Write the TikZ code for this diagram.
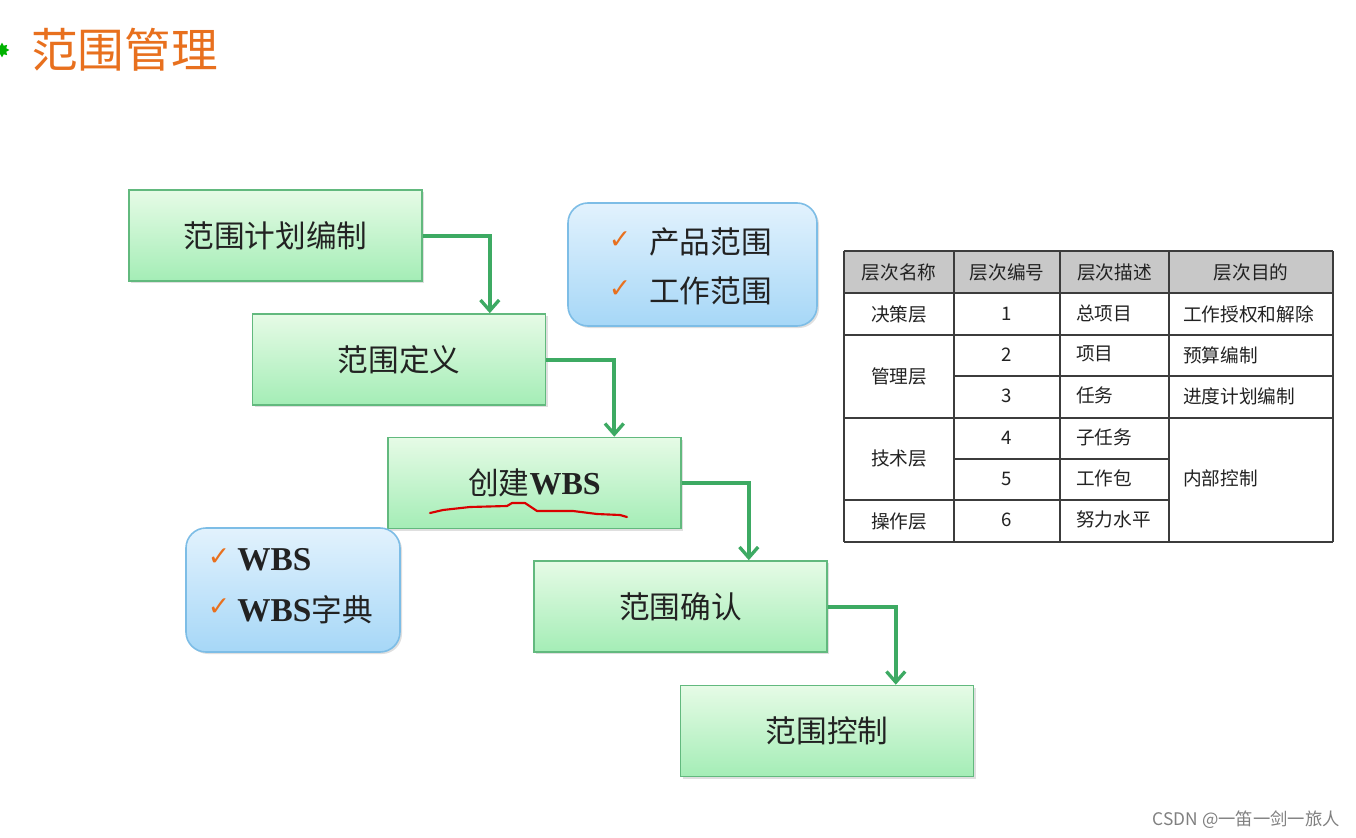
\documentclass[tikz,border=0pt]{standalone}
\usepackage{fontspec}
\setmainfont{Liberation Serif}
\newfontfamily\cjk{Noto Sans CJK SC}
\newfontfamily\symf{DejaVu Sans}
\usetikzlibrary{arrows.meta,shadows,shapes.geometric}
\definecolor{gtop}{HTML}{E6FBE6}
\definecolor{gbot}{HTML}{A4EDB6}
\definecolor{gline}{HTML}{62B97E}
\definecolor{arrowg}{HTML}{3DAA63}
\definecolor{btop}{HTML}{E2F2FD}
\definecolor{bbot}{HTML}{A6D7F7}
\definecolor{bline}{HTML}{7DBDE6}
\definecolor{orangec}{HTML}{E8701E}
\definecolor{hdr}{HTML}{C8C8C8}
\definecolor{tline}{HTML}{3C3C3C}
\definecolor{txt}{HTML}{222222}
\begin{document}
\begin{tikzpicture}[x=0.75pt,y=-0.75pt,
  stepbox/.style={draw=gline,line width=1.2pt,top color=gtop,bottom color=gbot,
    minimum width=219.75pt,minimum height=68.25pt,inner sep=0pt,
    drop shadow={shadow xshift=1.5pt,shadow yshift=-1.5pt,opacity=0.25},
    text=txt,font=\cjk\fontsize{23}{23}\selectfont},
  notebox/.style={draw=bline,line width=1.2pt,top color=btop,bottom color=bbot,
    rounded corners=15pt,inner sep=0pt,
    drop shadow={shadow xshift=1.5pt,shadow yshift=-1.5pt,opacity=0.25}},
  checkm/.style={text=orangec,font=\symf\fontsize{20}{20}\selectfont,inner sep=0pt},
  notetext/.style={anchor=west,text=txt,inner sep=0pt,font=\cjk\fontsize{23}{23}\selectfont},
  arr/.style={draw=arrowg,line width=3pt,-{Straight Barb[length=8pt,width=14pt,line width=2.5pt]}},
  cell/.style={text=txt,inner sep=0pt,font=\cjk\fontsize{14}{14}\selectfont},
  tl/.style={draw=tline,line width=1.2pt}
]
\useasboundingbox (0,0) rectangle (1356,838);
\fill[white] (0,0) rectangle (1356,838);

% title
\node[star,star points=8,star point ratio=1.6,fill=green!70!black,minimum size=11pt,inner sep=0pt] (icon) at (2,50) {};
\node[anchor=west,text=orangec,inner sep=0pt,font=\cjk\fontsize{35}{35}\selectfont] (title) at (31,50) {范围管理};

% process boxes
\node[stepbox] (b1) at (275.5,235.5) {范围计划编制};
\node[stepbox] (b2) at (399,359.5) {范围定义};
\node[stepbox] (b3) at (534.5,483) {创建{\rmfamily\bfseries\fontsize{24}{24}\selectfont WBS}};
\node[stepbox] (b4) at (680.5,606.5) {范围确认};
\node[stepbox] (b5) at (827,731) {范围控制};

% red underline
\draw[red!85!black,line width=1.6pt,line join=round,line cap=round]
  (430,513) -- (443,510) -- (470,507) -- (507,506) -- (512,503) -- (525,503)
  -- (537,511) -- (573,511) -- (597,514) -- (620,515) -- (627,517);

% connectors
\draw[arr] (b1.east) -- ++(67,0) coordinate (k1) -- (k1 |- b2.north);
\draw[arr] (b2.east) -- ++(68,0) coordinate (k2) -- (k2 |- b3.north);
\draw[arr] (b3.east) -- ++(67,0) coordinate (k3) -- (k3 |- b4.north);
\draw[arr] (b4.east) -- ++(68,0) coordinate (k4) -- (k4 |- b5.north);

% note box A
\node[notebox,minimum width=186.75pt,minimum height=92.25pt] (na) at (692.5,264.5) {};
\node[checkm] (ca1) at (620,240) {✓};
\node[checkm] (ca2) at (620,289) {✓};
\node[notetext] (ta1) at (649,242) {产品范围};
\node[notetext] (ta2) at (649,291) {工作范围};

% note box B
\node[notebox,minimum width=160.5pt,minimum height=93pt] (nb) at (293,590) {};
\node[checkm] (cb1) at (219,557) {✓};
\node[checkm] (cb2) at (219,607) {✓};
\node[notetext,font=\rmfamily\bfseries\fontsize{25}{25}\selectfont] (tb1) at (237,560) {WBS};
\node[notetext] (tb2) at (237,610) {{\rmfamily\bfseries\fontsize{25}{25}\selectfont WBS}字典};

% table
\fill[hdr] (844,251) rectangle (1333,293);
\draw[tl] (844,251) -- (1333,251);
\draw[tl] (844,293) -- (1333,293);
\draw[tl] (844,335) -- (1333,335);
\draw[tl] (954,376) -- (1333,376);
\draw[tl] (844,418) -- (1333,418);
\draw[tl] (954,459) -- (1169,459);
\draw[tl] (844,500) -- (1169,500);
\draw[tl] (844,542) -- (1333,542);
\foreach \x in {844,954,1060,1169,1333} \draw[tl] (\x,251) -- (\x,542);

\node[cell] (h1) at (899,272) {层次名称};
\node[cell] (h2) at (1007,272) {层次编号};
\node[cell] (h3) at (1114.5,272) {层次描述};
\node[cell] (h4) at (1251,272) {层次目的};

\node[cell] (a1) at (899,314) {决策层};
\node[cell] (a2) at (899,376) {管理层};
\node[cell] (a3) at (899,458) {技术层};
\node[cell] (a4) at (899,521) {操作层};

\node[cell] (n1) at (1007,314) {1};
\node[cell] (n2) at (1007,355) {2};
\node[cell] (n3) at (1007,396) {3};
\node[cell] (n4) at (1007,438) {4};
\node[cell] (n5) at (1007,479) {5};
\node[cell] (n6) at (1007,520) {6};

\node[cell,anchor=west] (d1) at (1076,313) {总项目};
\node[cell,anchor=west] (d2) at (1076,354) {项目};
\node[cell,anchor=west] (d3) at (1076,395) {任务};
\node[cell,anchor=west] (d4) at (1076,437) {子任务};
\node[cell,anchor=west] (d5) at (1076,478) {工作包};
\node[cell,anchor=west] (d6) at (1076,519) {努力水平};

\node[cell,anchor=west] (p1) at (1183,314) {工作授权和解除};
\node[cell,anchor=west] (p2) at (1183,355) {预算编制};
\node[cell,anchor=west] (p3) at (1183,396) {进度计划编制};
\node[cell,anchor=west] (p4) at (1183,478) {内部控制};

% watermark
\node[anchor=east,text=black!50,inner sep=0pt,font=\cjk\fontsize{13}{13}\selectfont] (wm) at (1340,820) {CSDN @一笛一剑一旅人};
\end{tikzpicture}
\end{document}
